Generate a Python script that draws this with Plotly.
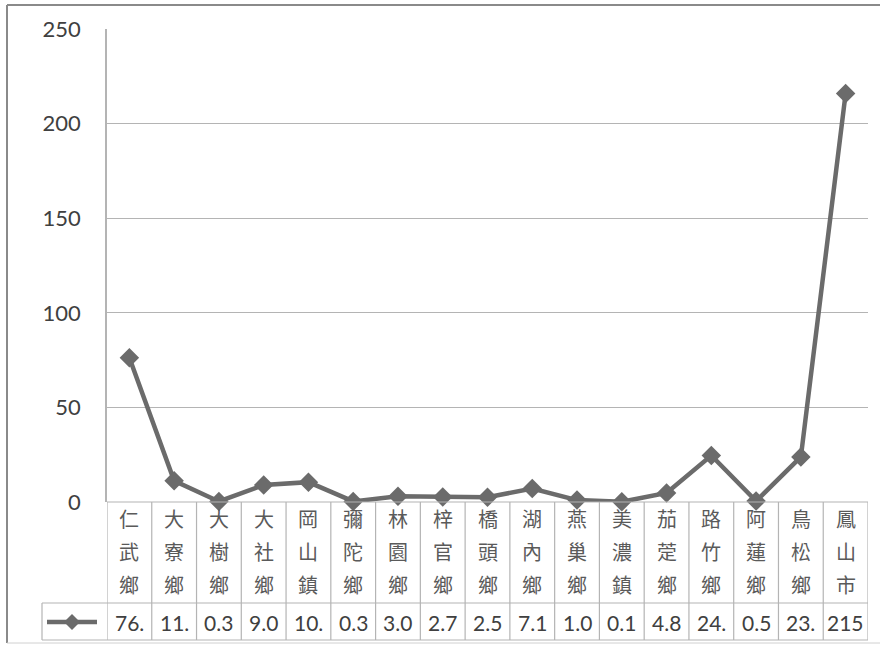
import plotly.graph_objects as go

categories = ["仁武鄉", "大寮鄉", "大樹鄉", "大社鄉", "岡山鎮", "彌陀鄉", "林園鄉", "梓官鄉",
              "橋頭鄉", "湖內鄉", "燕巢鄉", "美濃鎮", "茄萣鄉", "路竹鄉", "阿蓮鄉", "鳥松鄉", "鳳山市"]
values = [76.2, 11.2, 0.3, 9.0, 10.5, 0.3, 3.0, 2.7, 2.5, 7.1, 1.0, 0.1, 4.8, 24.6, 0.5, 23.8, 215.9]
y_ticks = [0, 50, 100, 150, 200, 250]

W, H = 880, 645
L, R, T, B = 107, 868, 29, 502
pw, ph = R - L, B - T

def px_x(x):
    return (x - L) / pw

def px_y(y):
    return (B - y) / ph

LINE_COLOR = "#6b6b6b"
GRID = "#b4b4b4"
n = len(categories)
xs = list(range(n))

fig = go.Figure()
fig.add_trace(go.Scatter(
    x=xs, y=values, mode="lines+markers",
    line=dict(color=LINE_COLOR, width=4.5),
    marker=dict(symbol="diamond", size=15, color=LINE_COLOR),
    showlegend=False, hoverinfo="skip", cliponaxis=False,
))

shapes = []
# outer frame
shapes.append(dict(type="line", xref="paper", yref="paper", x0=px_x(7), x1=px_x(7), y0=px_y(5), y1=px_y(643),
                   line=dict(color="#8a8a8a", width=2)))
shapes.append(dict(type="line", xref="paper", yref="paper", x0=px_x(7), x1=px_x(880), y0=px_y(5), y1=px_y(5),
                   line=dict(color="#8a8a8a", width=2)))
shapes.append(dict(type="line", xref="paper", yref="paper", x0=px_x(7), x1=px_x(880), y0=px_y(643), y1=px_y(643),
                   line=dict(color="#d0d0d0", width=1)))

# table
y_top, y_mid, y_bot = 0, px_y(603), px_y(640)
for k in range(n + 1):
    shapes.append(dict(type="line", xref="x", yref="paper", x0=k - 0.5, x1=k - 0.5, y0=y_top, y1=y_bot,
                       line=dict(color=GRID, width=1.2)))
shapes.append(dict(type="line", xref="paper", yref="paper", x0=px_x(42), x1=px_x(42), y0=y_mid, y1=y_bot,
                   line=dict(color=GRID, width=1.2)))
shapes.append(dict(type="line", xref="paper", yref="paper", x0=0, x1=1, y0=0, y1=0,
                   line=dict(color=GRID, width=1.2)))
for yy in (y_mid, y_bot):
    shapes.append(dict(type="line", xref="paper", yref="paper", x0=px_x(42), x1=1, y0=yy, y1=yy,
                       line=dict(color=GRID, width=1.2)))

# legend key
ly = px_y(622)
shapes.append(dict(type="line", xref="paper", yref="paper", x0=px_x(47), x1=px_x(97), y0=ly, y1=ly,
                   line=dict(color=LINE_COLOR, width=4.5)))
cx, cy, d = 72, 622, 8
path = "M {} {} L {} {} L {} {} L {} {} Z".format(
    px_x(cx), px_y(cy - d), px_x(cx + d), px_y(cy), px_x(cx), px_y(cy + d), px_x(cx - d), px_y(cy))
shapes.append(dict(type="path", xref="paper", yref="paper", path=path,
                   fillcolor=LINE_COLOR, line=dict(color=LINE_COLOR, width=0)))

annotations = []
char_rows = [518, 551, 584]
for i, cat in enumerate(categories):
    for j, ch in enumerate(cat):
        annotations.append(dict(x=i, y=px_y(char_rows[j]), xref="x", yref="paper", text=ch,
                                showarrow=False, xanchor="center", yanchor="middle",
                                font=dict(family="Noto Sans CJK TC", size=20, color="#5a5a5a")))
    annotations.append(dict(x=i, y=px_y(622), xref="x", yref="paper", text=f"{values[i]:.1f}"[:3],
                            showarrow=False, xanchor="center", yanchor="middle",
                            font=dict(family="Lato", size=21, color="#404040")))

fig.update_layout(
    width=W, height=H,
    margin=dict(l=L, r=W - R, t=T, b=H - B, pad=0),
    paper_bgcolor="white", plot_bgcolor="white",
    xaxis=dict(range=[-0.5, n - 0.5], showticklabels=False, showgrid=False, zeroline=False,
               showline=False, fixedrange=True),
    yaxis=dict(range=[0, 250], tickvals=y_ticks, showgrid=True, gridcolor=GRID, gridwidth=1.2,
               zeroline=False, showline=True, linecolor=GRID, linewidth=1.5,
               ticks="", ticklabelstandoff=20,
               tickfont=dict(family="Lato", size=22, color="#404040")),
    shapes=shapes, annotations=annotations,
)

fig.write_html("out.html", config={"displayModeBar": False},
               post_script="document.body.style.margin='0';document.body.style.overflow='hidden';")
